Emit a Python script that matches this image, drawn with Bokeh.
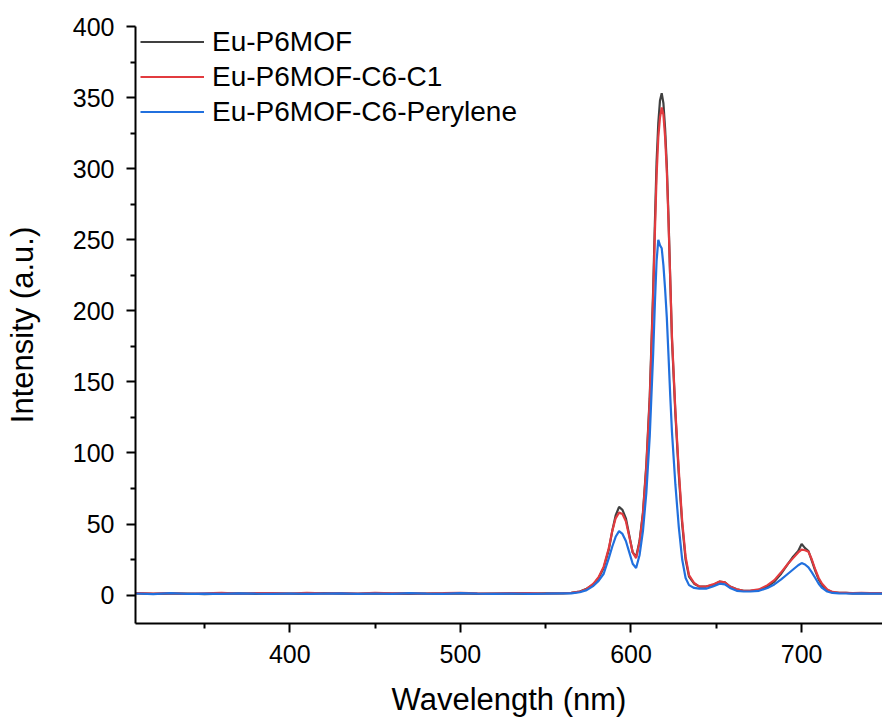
from bokeh.plotting import figure
from bokeh.models import Range1d, FixedTicker, Legend, LegendItem
from bokeh.embed import file_html
from bokeh.resources import INLINE

# ---- data ----
wl_base = [310, 320, 330, 340, 350, 360, 370, 380, 390, 400,
           410, 420, 430, 440, 450, 460, 470, 480, 490, 500,
           510, 520, 530, 540, 550, 560]
black_base = [1.2, 0.8, 1.0, 1.1, 0.7, 1.0, 1.2, 0.9, 1.1, 1.0,
              0.8, 1.3, 1.0, 0.9, 1.2, 1.0, 0.8, 1.1, 1.0, 1.2,
              0.9, 1.1, 1.0, 0.8, 1.2, 1.1]
red_base = [1.4, 1.1, 1.3, 0.9, 1.2, 1.5, 1.0, 1.3, 1.4, 1.1,
            1.6, 1.2, 1.3, 1.0, 1.5, 1.2, 1.4, 1.1, 1.3, 1.6,
            1.2, 1.0, 1.4, 1.3, 1.1, 1.4]
blue_base = [1.1, 0.7, 1.3, 0.9, 1.0, 0.8, 1.2, 1.0, 0.9, 1.1,
             0.8, 1.0, 1.2, 0.9, 1.1, 0.8, 1.3, 1.0, 0.9, 1.4,
             1.0, 0.8, 1.1, 0.9, 1.0, 1.2]

wl_peak = [565, 570, 574, 578, 581, 584, 587, 589, 591, 593,
           595, 597, 599, 601, 603, 605, 607, 609, 611, 613,
           614, 615, 616, 617, 618, 619, 620, 621, 622, 623,
           624, 626, 628, 630, 632, 634, 637, 640, 644, 648,
           652, 655, 658, 662, 666, 670, 675, 680, 684, 688,
           692, 695, 698, 700, 702, 704, 706, 708, 710, 712,
           715, 718, 722, 726, 730, 735, 740, 745, 749]
black_peak = [1.5, 2.5, 4.5, 7.5, 12, 19, 32, 45, 56, 62,
              60, 54, 42, 30, 27, 38, 58, 92, 140, 215,
              262, 305, 332, 348, 353, 346, 328, 302, 265, 222,
              180, 128, 85, 50, 25, 13, 8, 6, 6, 7,
              9.5, 9, 6, 4, 3, 3, 3.5, 6, 9.5, 15,
              22, 27, 31, 36, 33, 31, 24, 17, 11, 7,
              3.5, 2, 1.5, 1.5, 1.2, 1.4, 1.2, 1.3, 1.2]
red_peak = [1.6, 2.4, 4.3, 8, 12.5, 20, 33, 45, 54, 58,
            57, 52, 41, 30, 26, 37, 57, 90, 138, 210,
            255, 295, 322, 336, 343, 338, 322, 298, 262, 222,
            182, 130, 88, 52, 27, 14, 8.5, 6, 6, 7.5,
            9.5, 9, 6, 4, 3, 3.2, 4, 7, 10.5, 16,
            22, 26, 30, 32, 31.5, 30.5, 25, 18, 12, 8,
            4, 2.2, 1.6, 1.5, 1.3, 1.5, 1.3, 1.4, 1.3]
blue_peak = [1.2, 2.0, 3.5, 6.5, 10, 15, 26, 34, 41, 45,
             43, 38, 30, 22, 19, 28, 45, 72, 112, 170,
             205, 235, 250, 246, 244, 232, 215, 195, 168, 140,
             115, 78, 48, 25, 12, 7, 5, 4.5, 4.5, 6,
             8, 7.5, 5, 3, 2.5, 2.5, 3, 5, 7.5, 11,
             15, 18, 21, 22.5, 21.5, 19.5, 16, 12, 8, 5,
             2.5, 1.5, 1.2, 1.1, 1.0, 1.2, 1.0, 1.1, 1.0]

series_names = ["Eu-P6MOF", "Eu-P6MOF-C6-C1", "Eu-P6MOF-C6-Perylene"]
x_major = [400, 500, 600, 700]
x_minor = [350, 450, 550, 650]
y_major = [0, 50, 100, 150, 200, 250, 300, 350, 400]
y_minor = [25, 75, 125, 175, 225, 275, 325, 375]

wl = wl_base + wl_peak
black = black_base + black_peak
red = red_base + red_peak
blue = blue_base + blue_peak

FONT = "Liberation Sans"

p = figure(width=882, height=719, output_backend="svg", toolbar_location=None,
           x_range=Range1d(309.6, 747.4), y_range=Range1d(-20, 400),
           min_border_left=135, min_border_right=0, min_border_top=26,
           min_border_bottom=96)
p.outline_line_color = None
p.xgrid.visible = False
p.ygrid.visible = False
p.background_fill_color = "white"
p.border_fill_color = "white"

r1 = p.line(wl, black, line_color="#404040", line_width=2.2)
r2 = p.line(wl, red, line_color="#e23b3f", line_width=2.2)
r3 = p.line(wl, blue, line_color="#2170de", line_width=2.2)

for ax, maj, mn in ((p.xaxis[0], x_major, x_minor), (p.yaxis[0], y_major, y_minor)):
    ax.ticker = FixedTicker(ticks=maj, minor_ticks=mn)
    ax.axis_line_width = 2
    ax.axis_line_color = "black"
    ax.major_tick_line_width = 2
    ax.minor_tick_line_width = 2
    ax.major_tick_line_color = "black"
    ax.minor_tick_line_color = "black"
    ax.major_tick_in = 0
    ax.minor_tick_in = 0
    ax.major_tick_out = 9
    ax.minor_tick_out = 5
    ax.major_label_text_font = FONT
    ax.major_label_text_font_size = "25px"
    ax.major_label_text_color = "black"
    ax.axis_label_text_font = FONT
    ax.axis_label_text_font_size = "31px"
    ax.axis_label_text_font_style = "normal"
    ax.axis_label_text_color = "black"

p.xaxis.axis_label = "Wavelength (nm)"
p.yaxis.axis_label = "Intensity (a.u.)"
p.xaxis.major_label_standoff = 12
p.yaxis.major_label_standoff = 12
p.xaxis.axis_label_standoff = 16
p.yaxis.axis_label_standoff = 30

legend = Legend(items=[LegendItem(label=series_names[0], renderers=[r1]),
                       LegendItem(label=series_names[1], renderers=[r2]),
                       LegendItem(label=series_names[2], renderers=[r3])],
                location=(5, 495))
legend.border_line_color = None
legend.background_fill_alpha = 0
legend.margin = 0
legend.padding = 0
legend.spacing = 2
legend.glyph_width = 64
legend.glyph_height = 33
legend.label_height = 33
legend.label_standoff = 8
legend.label_text_font = FONT
legend.label_text_font_size = "28px"
legend.label_text_color = "black"
p.add_layout(legend)

open("out.html", "w").write(file_html(p, INLINE))
